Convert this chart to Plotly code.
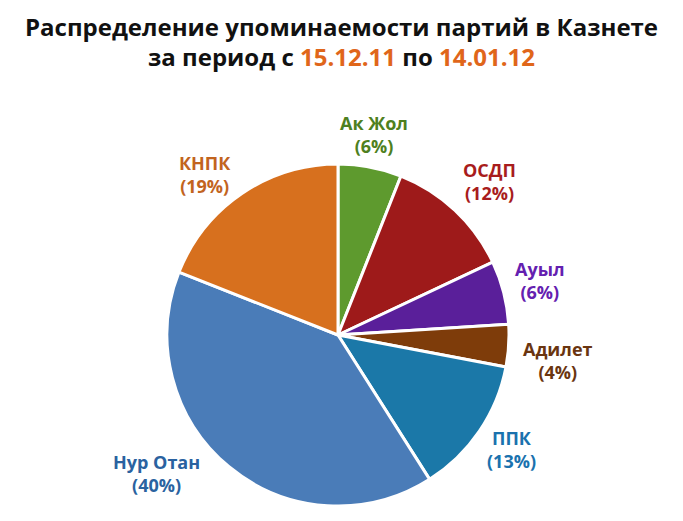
import plotly.graph_objects as go

parties = ["Ак Жол", "ОСДП", "Ауыл", "Адилет", "ППК", "Нур Отан", "КНПК"]
shares = [6, 12, 6, 4, 13, 40, 19]

slice_colors = ["#5E9A2E", "#9E1A1A", "#5A1F9A", "#7E3C0A", "#1B78A8", "#4A7CB8", "#D7701E"]
label_colors = ["#4E8020", "#A81C1C", "#6420B0", "#6A3510", "#1A72AE", "#2A62A0", "#C2641E"]

# label centres on screen in pixels (x, y of first line)
label_pos = [(374, 121), (489, 168), (540, 267), (558, 347), (511, 436), (156, 460), (205, 161)]

W, H = 683, 521
OFF = 8  # page margin around the plot div
FONT = "Open Sans"


def px_x(x):
    return (x - OFF) / W


def px_y(y):
    return 1 - (y - OFF) / H


fig = go.Figure(
    go.Pie(
        labels=parties,
        values=shares,
        sort=False,
        direction="clockwise",
        rotation=0,
        marker=dict(colors=slice_colors, line=dict(color="white", width=3)),
        textinfo="none",
        hoverinfo="label+percent",
        showlegend=False,
        domain=dict(x=[px_x(167), px_x(509)], y=[px_y(506), px_y(164)]),
    )
)

annotations = []
for name, share, color, (lx, ly) in zip(parties, shares, label_colors, label_pos):
    annotations.append(
        dict(
            text=f"<b>{name}</b><br><b>({share}%)</b>",
            x=px_x(lx),
            y=px_y(ly - 12),
            xref="paper",
            yref="paper",
            xanchor="center",
            yanchor="top",
            showarrow=False,
            font=dict(family=FONT, size=18, color=color),
        )
    )

# first title line hangs from the top edge, second is centred on its row
title_lines = [
    ("<b>Распределение упоминаемости партий в Казнете</b>", 1.0, "top"),
    ("<b>за период с <span style='color:#E0661A'>15.12.11</span> по "
     "<span style='color:#E0661A'>14.01.12</span></b>", px_y(56), "middle"),
]
for text, ty, anchor in title_lines:
    annotations.append(
        dict(
            text=text,
            x=px_x(341),
            y=ty,
            xref="paper",
            yref="paper",
            xanchor="center",
            yanchor=anchor,
            showarrow=False,
            font=dict(family=FONT, size=24, color="#111111"),
        )
    )

fig.update_layout(
    width=W,
    height=H,
    margin=dict(l=0, r=0, t=0, b=0),
    paper_bgcolor="white",
    plot_bgcolor="white",
    annotations=annotations,
)

fig.write_html("out.html")
